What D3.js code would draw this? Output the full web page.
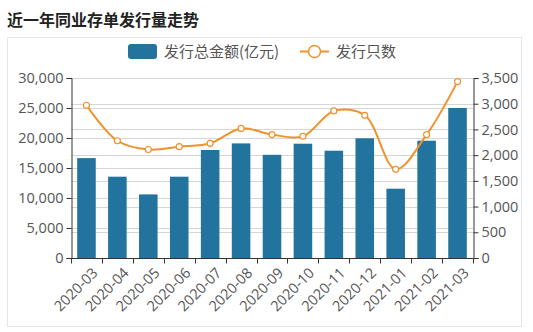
<!DOCTYPE html>
<html><head><meta charset="utf-8">
<script src="https://cdn.jsdelivr.net/npm/d3@7"></script>
<style>
body{margin:0;background:#fff;font-family:"Open Sans","Noto Sans CJK SC",sans-serif;}
</style></head>
<body><svg id="c" width="533" height="332"></svg>
<script>
const categories = ["2020-03","2020-04","2020-05","2020-06","2020-07","2020-08","2020-09","2020-10","2020-11","2020-12","2021-01","2021-02","2021-03"];
const amountValues = [16650,13550,10600,13550,18000,19100,17200,19050,17880,19950,11550,19550,25000];
const countValues = [2970,2280,2110,2165,2230,2520,2400,2365,2860,2775,1725,2400,3430];
const leftTicks = [0,5000,10000,15000,20000,25000,30000];
const rightTicks = [0,500,1000,1500,2000,2500,3000,3500];
const seriesNames = ["发行总金额(亿元)","发行只数"];
const title = "近一年同业存单发行量走势";

const barColor = "#22749f", lineColor = "#f0922c", textColor = "#555";
const svg = d3.select("#c");
const m = {l:71, r:473, t:78, b:258};

svg.append("text").attr("x",7).attr("y",26).text(title)
  .attr("font-size",16).attr("font-weight","bold").attr("fill","#222")
  .attr("font-family","Noto Sans CJK SC");

svg.append("rect").attr("x",7.5).attr("y",37.5).attr("width",514).attr("height",289)
  .attr("fill","none").attr("stroke","#e6e6e6");

const xb = d3.scaleBand().domain(categories).range([m.l,m.r]);
const yL = d3.scaleLinear().domain([0,30000]).range([m.b,m.t]);
const yR = d3.scaleLinear().domain([0,3500]).range([m.b,m.t]);

// gridlines
const g = svg.append("g");
leftTicks.forEach(t=>g.append("line").attr("x1",m.l).attr("x2",m.r).attr("y1",Math.round(yL(t))+0.5).attr("y2",Math.round(yL(t))+0.5).attr("stroke","#d6d6d6"));
rightTicks.forEach(t=>g.append("line").attr("x1",m.l).attr("x2",m.r).attr("y1",Math.round(yR(t))+0.5).attr("y2",Math.round(yR(t))+0.5).attr("stroke","#d6d6d6"));

// bars
svg.append("g").selectAll("rect").data(amountValues).join("rect")
  .attr("x",(d,i)=>xb(categories[i])+xb.bandwidth()*0.2)
  .attr("width",xb.bandwidth()*0.6)
  .attr("y",d=>yL(d)).attr("height",d=>m.b-yL(d)).attr("fill",barColor);

// line
const pts = countValues.map((d,i)=>[xb(categories[i])+xb.bandwidth()/2, yR(d)]);
svg.append("path").attr("d",d3.line().curve(d3.curveCatmullRom.alpha(0.5))(pts))
  .attr("fill","none").attr("stroke",lineColor).attr("stroke-width",2);
svg.append("g").selectAll("circle").data(pts).join("circle")
  .attr("cx",d=>d[0]).attr("cy",d=>d[1]).attr("r",3)
  .attr("fill","#fff").attr("stroke",lineColor).attr("stroke-width",1.2);

// axes
const fmt = d3.format(",");
const axL = svg.append("g").attr("transform",`translate(${m.l+0.5},0)`)
  .call(d3.axisLeft(yL).tickValues(leftTicks).tickFormat(fmt).tickSizeOuter(0).tickSize(5).tickPadding(3));
const axR = svg.append("g").attr("transform",`translate(${m.r+0.5},0)`)
  .call(d3.axisRight(yR).tickValues(rightTicks).tickFormat(fmt).tickSizeOuter(0).tickSize(5).tickPadding(3));
[axL,axR].forEach(a=>{
  a.select(".domain").attr("stroke","#333");
  a.selectAll(".tick line").attr("stroke","#333");
  a.selectAll("text").attr("font-size",14.5).attr("fill",textColor).attr("font-family","Open Sans");
});
const axB = svg.append("g").attr("transform",`translate(0,${m.b+0.5})`);
axB.append("line").attr("x1",m.l).attr("x2",m.r+0.5).attr("stroke","#333");
const edges = categories.map(c=>xb(c)).concat([m.r]);
axB.selectAll("line.t").data(edges).join("line").attr("class","t")
  .attr("x1",d=>Math.round(d)+0.5).attr("x2",d=>Math.round(d)+0.5).attr("y1",0).attr("y2",5).attr("stroke","#333");
axB.selectAll("text").data(categories).join("text")
  .attr("transform",c=>`translate(${xb(c)+xb.bandwidth()/2+5},${8}) rotate(-45)`)
  .attr("text-anchor","end").attr("dy","0.71em")
  .attr("font-size",14.5).attr("fill",textColor).attr("font-family","Open Sans")
  .text(c=>c);

// legend
const lg = svg.append("g");
lg.append("rect").attr("x",128).attr("y",44).attr("width",29).attr("height",15).attr("rx",3).attr("fill",barColor);
lg.append("text").attr("x",164).attr("y",57).text(seriesNames[0]).attr("font-size",15).attr("fill",textColor).attr("font-family","Noto Sans CJK SC");
lg.append("line").attr("x1",300).attr("x2",329).attr("y1",51.5).attr("y2",51.5).attr("stroke",lineColor).attr("stroke-width",2);
lg.append("circle").attr("cx",314.5).attr("cy",51.5).attr("r",6).attr("fill","#fff").attr("stroke",lineColor).attr("stroke-width",1.5);
lg.append("text").attr("x",336).attr("y",57).text(seriesNames[1]).attr("font-size",15).attr("fill",textColor).attr("font-family","Noto Sans CJK SC");
</script></body></html>
